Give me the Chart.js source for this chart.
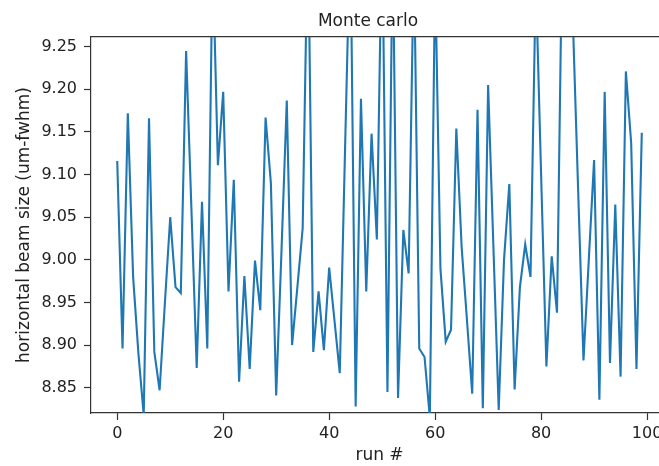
<!DOCTYPE html>
<html>
<head>
<meta charset="utf-8">
<script src="https://cdn.jsdelivr.net/npm/chart.js@4"></script>
<style>
  html, body { margin: 0; padding: 0; background: #fff; overflow: hidden; }
  #wrap { width: 659px; height: 466px; overflow: hidden; }
</style>
</head>
<body>
<div id="wrap"><canvas id="mc-chart" width="668" height="466"></canvas></div>
<script>
// run index (x) and measured beam size (y)
const runs = [
  0, 1, 2, 3, 4, 5, 6, 7, 8, 9,
  10, 11, 12, 13, 14, 15, 16, 17, 18, 19,
  20, 21, 22, 23, 24, 25, 26, 27, 28, 29,
  30, 31, 32, 33, 34, 35, 36, 37, 38, 39,
  40, 41, 42, 43, 44, 45, 46, 47, 48, 49,
  50, 51, 52, 53, 54, 55, 56, 57, 58, 59,
  60, 61, 62, 63, 64, 65, 66, 67, 68, 69,
  70, 71, 72, 73, 74, 75, 76, 77, 78, 79,
  80, 81, 82, 83, 84, 85, 86, 87, 88, 89,
  90, 91, 92, 93, 94, 95, 96, 97, 98, 99
];
const beamSize = [
  9.116, 8.896, 9.172, 8.980, 8.890, 8.818, 9.166, 8.892, 8.847, 8.950,
  9.050, 8.968, 8.961, 9.245, 9.060, 8.873, 9.068, 8.896, 9.360, 9.111,
  9.197, 8.963, 9.094, 8.857, 8.981, 8.872, 8.999, 8.941, 9.167, 9.090,
  8.841, 9.010, 9.187, 8.900, 8.968, 9.037, 9.400, 8.892, 8.963, 8.894,
  8.991, 8.929, 8.867, 9.130, 9.390, 8.828, 9.189, 8.963, 9.148, 9.024,
  9.400, 8.845, 9.380, 8.838, 9.035, 8.984, 9.360, 8.896, 8.886, 8.815,
  9.340, 8.990, 8.904, 8.918, 9.154, 9.015, 8.930, 8.843, 9.176, 8.826,
  9.205, 9.015, 8.824, 9.000, 9.089, 8.848, 8.968, 9.018, 8.980, 9.330,
  9.100, 8.875, 9.004, 8.938, 9.380, 9.340, 9.280, 9.080, 8.882, 9.000,
  9.117, 8.836, 9.197, 8.879, 9.065, 8.863, 9.221, 9.137, 8.872, 9.149
];
// tick labels
const xTicks = [0, 20, 40, 60, 80, 100];
const yTicks = [8.85, 8.90, 8.95, 9.00, 9.05, 9.10, 9.15, 9.20, 9.25];

const canvas = document.getElementById('mc-chart');
const spine = '#333';
const textColor = '#222';
const tickFont = { family: 'DejaVu Sans', size: 16 };
const labelFont = { family: 'DejaVu Sans', size: 17 };

// title sits a little left of the axes centre in the original picture
const plotTitle = {
  id: 'plotTitle',
  afterDraw(chart) {
    const ctx = chart.ctx;
    ctx.save();
    ctx.font = '17px "DejaVu Sans"';
    ctx.fillStyle = textColor;
    ctx.textAlign = 'center';
    ctx.textBaseline = 'alphabetic';
    ctx.fillText('Monte carlo', 368, 26);
    ctx.restore();
  }
};

const mcChart = new Chart(canvas, {
  type: 'line',
  data: {
    labels: runs,
    datasets: [{
      data: beamSize,
      borderColor: '#1f77b4',
      borderWidth: 2.1,
      pointRadius: 0,
      tension: 0,
      fill: false,
      clip: 0
    }]
  },
  options: {
    responsive: false,
    animation: false,
    layout: { padding: 0 },
    plugins: {
      legend: { display: false },
      tooltip: { enabled: false }
    },
    scales: {
      x: {
        type: 'linear',
        position: 'bottom',
        min: -4.95,
        max: 103.95,
        afterBuildTicks: s => { s.ticks = xTicks.map(v => ({ value: v })); },
        afterFit: s => { s.height = 53; },
        grid: { drawOnChartArea: false, tickLength: 7, tickColor: spine, tickWidth: 1.2 },
        border: { color: spine, width: 1.2 },
        ticks: { font: tickFont, color: textColor, padding: 4, maxRotation: 0, autoSkip: false, callback: v => v },
        title: { display: true, text: 'run #', font: labelFont, color: textColor, padding: 0 }
      },
      top: {
        type: 'linear',
        position: 'top',
        min: -4.95,
        max: 103.95,
        afterBuildTicks: s => { s.ticks = []; },
        afterFit: s => { s.height = 37; },
        grid: { drawOnChartArea: false, drawTicks: false },
        border: { color: spine, width: 1.2 },
        ticks: { display: false }
      },
      y: {
        type: 'linear',
        position: 'left',
        min: 8.8203,
        max: 9.2614,
        afterBuildTicks: s => { s.ticks = yTicks.map(v => ({ value: v })); },
        afterFit: s => { s.width = 91; },
        grid: { drawOnChartArea: false, tickLength: 7, tickColor: spine, tickWidth: 1.2 },
        border: { color: spine, width: 1.2 },
        ticks: { font: tickFont, color: textColor, padding: 7, autoSkip: false, callback: v => v.toFixed(2) },
        title: { display: true, text: 'horizontal beam size (um-fwhm)', font: labelFont, color: textColor, padding: { top: 14, bottom: 0 } }
      }
    }
  },
  plugins: [plotTitle]
});
</script>
</body>
</html>
